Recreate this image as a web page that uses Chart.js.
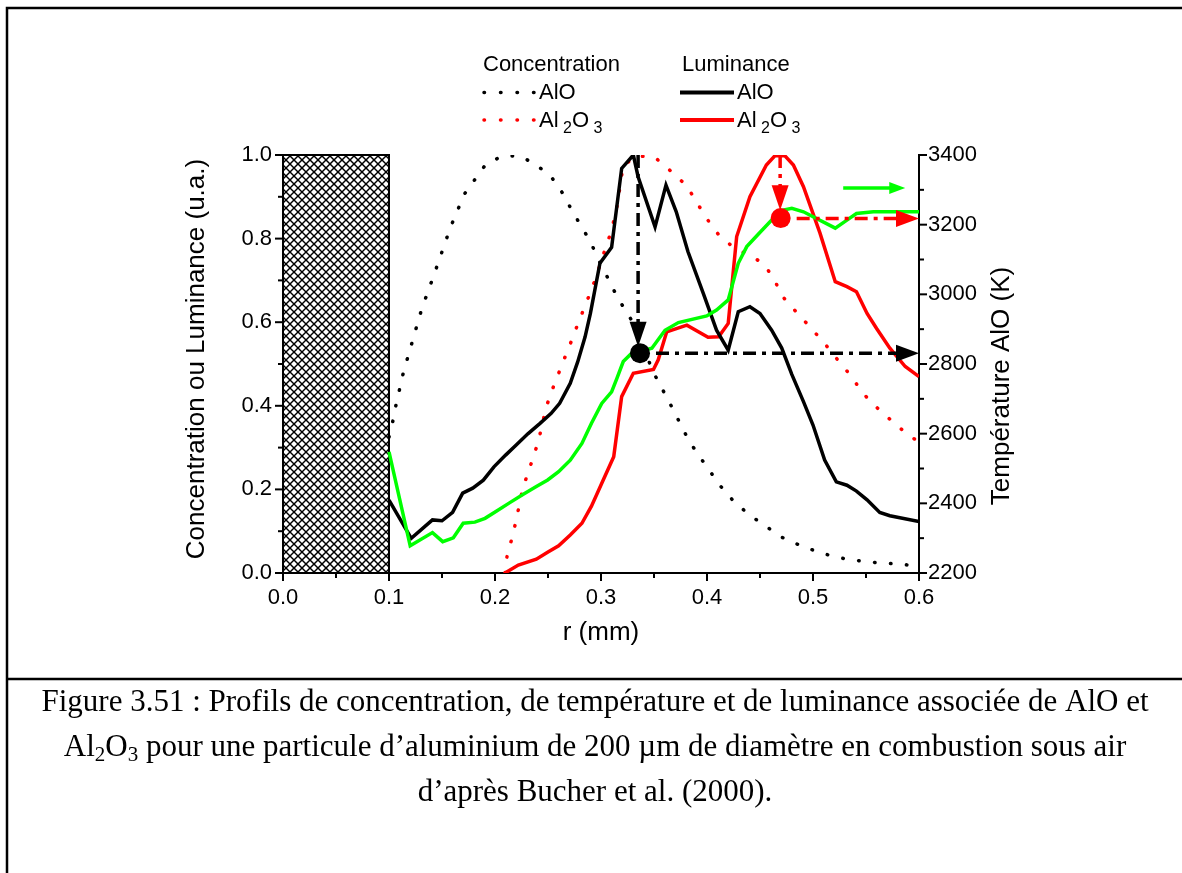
<!DOCTYPE html>
<html>
<head>
<meta charset="utf-8">
<script src="https://cdn.jsdelivr.net/npm/chart.js@4.4.0/dist/chart.umd.min.js"></script>
<style>
  html, body { margin: 0; padding: 0; background: #fff; }
  canvas { display: block; }
</style>
</head>
<body>
<canvas id="myChart" width="1182" height="873"></canvas>
<script>
// concentration AlO (dotted black)
const rConcAlO = [0.100, 0.1035, 0.1066, 0.110, 0.1135, 0.131, 0.142, 0.158, 0.171, 0.192, 0.208, 0.224, 0.238, 0.253, 0.264, 0.272, 0.281, 0.290, 0.297, 0.305, 0.312, 0.320, 0.330, 0.340, 0.349, 0.357, 0.365, 0.373, 0.381, 0.390, 0.401, 0.412, 0.425, 0.440, 0.456, 0.471, 0.487, 0.502, 0.517, 0.532, 0.548, 0.563, 0.578, 0.594];
const concAlO  = [0.325, 0.362, 0.402, 0.440, 0.479, 0.633, 0.710, 0.827, 0.906, 0.980, 0.998, 0.997, 0.978, 0.948, 0.908, 0.870, 0.831, 0.793, 0.753, 0.713, 0.677, 0.641, 0.600, 0.540, 0.482, 0.444, 0.406, 0.366, 0.326, 0.289, 0.250, 0.210, 0.172, 0.139, 0.111, 0.085, 0.067, 0.053, 0.041, 0.033, 0.028, 0.024, 0.022, 0.018];

// concentration Al2O3 (dotted red)
const rConcAl2O3 = [0.2094, 0.2115, 0.216, 0.2195, 0.226, 0.231, 0.236, 0.241, 0.248, 0.253, 0.259, 0.265, 0.271, 0.277, 0.283, 0.289, 0.295, 0.302, 0.310, 0.315, 0.321, 0.335, 0.351, 0.367, 0.381, 0.390, 0.400, 0.411, 0.425, 0.440, 0.453, 0.4635, 0.470, 0.484, 0.497, 0.511, 0.522, 0.536, 0.547, 0.561, 0.576, 0.590, 0.596];
const concAl2O3  = [0.000, 0.043, 0.083, 0.121, 0.200, 0.239, 0.276, 0.316, 0.394, 0.432, 0.471, 0.510, 0.548, 0.588, 0.627, 0.665, 0.705, 0.760, 0.820, 0.876, 0.976, 0.998, 0.994, 0.959, 0.926, 0.888, 0.847, 0.809, 0.779, 0.760, 0.741, 0.703, 0.665, 0.625, 0.589, 0.549, 0.514, 0.471, 0.430, 0.394, 0.360, 0.330, 0.320];

// luminance AlO (solid black)
const rLumAlO = [0.100, 0.121, 0.141, 0.150, 0.160, 0.1695, 0.179, 0.189, 0.199, 0.210, 0.220, 0.231, 0.2425, 0.253, 0.261, 0.271, 0.278, 0.285, 0.290, 0.299, 0.310, 0.3195, 0.3305, 0.335, 0.351, 0.3613, 0.371, 0.382, 0.3965, 0.409, 0.420, 0.4295, 0.4405, 0.450, 0.461, 0.4705, 0.480, 0.491, 0.500, 0.511, 0.522, 0.532, 0.541, 0.551, 0.563, 0.5725, 0.600];
const lumAlO  = [0.1745, 0.083, 0.127, 0.125, 0.145, 0.191, 0.203, 0.222, 0.254, 0.282, 0.306, 0.333, 0.358, 0.382, 0.406, 0.454, 0.505, 0.565, 0.621, 0.741, 0.779, 0.968, 1.000, 0.948, 0.828, 0.928, 0.864, 0.769, 0.669, 0.581, 0.533, 0.625, 0.637, 0.621, 0.581, 0.538, 0.475, 0.410, 0.354, 0.270, 0.218, 0.210, 0.196, 0.175, 0.145, 0.137, 0.123];

// luminance Al2O3 (solid red)
const rLumAl2O3 = [0.2094, 0.222, 0.239, 0.250, 0.260, 0.271, 0.282, 0.291, 0.302, 0.312, 0.3195, 0.3305, 0.3495, 0.354, 0.362, 0.381, 0.401, 0.411, 0.420, 0.428, 0.4405, 0.456, 0.464, 0.4735, 0.4815, 0.491, 0.5066, 0.521, 0.532, 0.541, 0.551, 0.560, 0.5725, 0.587, 0.600];
const lumAl2O3  = [0.000, 0.019, 0.033, 0.050, 0.065, 0.091, 0.119, 0.160, 0.222, 0.278, 0.422, 0.478, 0.487, 0.510, 0.577, 0.593, 0.564, 0.565, 0.597, 0.805, 0.900, 0.976, 0.998, 0.998, 0.976, 0.924, 0.813, 0.697, 0.685, 0.673, 0.621, 0.585, 0.538, 0.494, 0.470];

// temperature AlO (green, right axis, K)
const rTemp = [0.100, 0.120, 0.141, 0.1507, 0.1607, 0.170, 0.181, 0.1906, 0.2016, 0.214, 0.2267, 0.239, 0.2497, 0.260, 0.271, 0.282, 0.291, 0.3007, 0.310, 0.315, 0.321, 0.329, 0.348, 0.3604, 0.373, 0.3997, 0.409, 0.420, 0.4295, 0.4375, 0.447, 0.461, 0.472, 0.480, 0.491, 0.521, 0.532, 0.541, 0.557, 0.600];
const tempAlO = [2548, 2278, 2316, 2290, 2301, 2343, 2346, 2357, 2378, 2402, 2426, 2448, 2467, 2491, 2524, 2572, 2630, 2687, 2720, 2759, 2807, 2831, 2845, 2897, 2919, 2938, 2955, 2984, 3089, 3137, 3168, 3213, 3242, 3247, 3237, 3190, 3213, 3232, 3237, 3237];

// particle zone (hatched)
const particleR = [0, 0.1];
const particleC = [0, 1];

// read-off markers: peak position -> temperature (AlO, Al2O3)
const peakR = [0.335, 0.469];
const peakTipC = [0.541, 0.868];
const markR = [0.3368, 0.4695];
const markC = [0.526, 0.849];
const markT = [2831, 3218];
const markColor = ['#000000', '#ff0000'];

// green arrow toward the temperature axis
const greenArrowR = [0.5285, 0.587];
const greenArrowT = 3305;

const xTicks = [0.0, 0.1, 0.2, 0.3, 0.4, 0.5, 0.6];
const sans = "'Liberation Sans', Arial, sans-serif";
const serif = "'Liberation Serif', 'Times New Roman', serif";

const ctx = document.getElementById('myChart');

function pts(xs, ys) {
  return xs.map((x, i) => ({ x: x, y: ys[i] }));
}

function head(c, x, y, dx, dy, len, half, color) {
  const bx = x - dx * len, by = y - dy * len;
  c.beginPath();
  c.moveTo(x, y);
  c.lineTo(bx - dy * half, by + dx * half);
  c.lineTo(bx + dy * half, by - dx * half);
  c.closePath();
  c.fillStyle = color;
  c.fill();
}

function subText(c, fam, x, y, parts, size, subSize, subDrop, align) {
  // parts: [text, isSub]
  let w = 0;
  parts.forEach(p => {
    c.font = (p[1] ? subSize : size) + 'px ' + fam;
    w += c.measureText(p[0]).width;
  });
  let cx = align === 'center' ? x - w / 2 : x;
  c.textAlign = 'left';
  parts.forEach(p => {
    c.font = (p[1] ? subSize : size) + 'px ' + fam;
    c.fillText(p[0], cx, p[1] ? y + subDrop : y);
    cx += c.measureText(p[0]).width;
  });
}

const extras = {
  id: 'extras',
  beforeDatasetsDraw(chart) {
    const c = chart.ctx, xs = chart.scales.x, ys = chart.scales.y;
    const x0 = xs.getPixelForValue(particleR[0]), x1 = xs.getPixelForValue(particleR[1]);
    const y0 = ys.getPixelForValue(particleC[1]), y1 = ys.getPixelForValue(particleC[0]);
    c.save();
    c.fillStyle = '#fff';
    c.fillRect(x0, y0, x1 - x0, y1 - y0);
    c.beginPath();
    c.rect(x0, y0, x1 - x0, y1 - y0);
    c.clip();
    c.strokeStyle = '#000';
    c.lineWidth = 1.5;
    const h = y1 - y0;
    for (let s = x0 - h; s < x1 + h; s += 8) {
      c.beginPath(); c.moveTo(s, y0); c.lineTo(s + h, y1); c.stroke();
      c.beginPath(); c.moveTo(s, y1); c.lineTo(s + h, y0); c.stroke();
    }
    c.restore();
    c.save();
    c.strokeStyle = '#000';
    c.lineWidth = 2;
    c.strokeRect(x0, y0, x1 - x0, y1 - y0);
    c.restore();
  },
  afterDraw(chart) {
    const c = chart.ctx, xs = chart.scales.x, ys = chart.scales.y, ts = chart.scales.y2;
    const area = chart.chartArea;
    c.save();
    c.strokeStyle = '#000';
    c.lineWidth = 2;

    // tick marks (major outward, minor shorter)
    for (let i = 0; i <= 12; i++) {
      const px = xs.getPixelForValue(i * 0.05);
      const len = i % 2 === 0 ? 8 : 5;
      c.beginPath(); c.moveTo(px, area.bottom); c.lineTo(px, area.bottom + len); c.stroke();
    }
    for (let i = 0; i <= 10; i++) {
      const py = ys.getPixelForValue(i * 0.1);
      const len = i % 2 === 0 ? 8 : 5;
      c.beginPath(); c.moveTo(area.left, py); c.lineTo(area.left - len, py); c.stroke();
    }
    for (let i = 0; i <= 12; i++) {
      const py = ts.getPixelForValue(2200 + i * 100);
      const len = i % 2 === 0 ? 8 : 5;
      c.beginPath(); c.moveTo(area.right, py); c.lineTo(area.right + len, py); c.stroke();
    }

    // read-off arrows
    for (let k = 0; k < 2; k++) {
      const col = markColor[k];
      const vx = xs.getPixelForValue(peakR[k]);
      const tipY = ys.getPixelForValue(peakTipC[k]);
      c.strokeStyle = col;
      c.lineWidth = 3.5;
      c.setLineDash([13, 6, 4, 6]);
      c.beginPath(); c.moveTo(vx, area.top); c.lineTo(vx, tipY - 22); c.stroke();
      c.setLineDash([]);
      head(c, vx, tipY, 0, 1, 25, 8.5, col);

      const mx = xs.getPixelForValue(markR[k]);
      const my = ys.getPixelForValue(markC[k]);
      const hy = ts.getPixelForValue(markT[k]);
      c.setLineDash([13, 6, 4, 6]);
      c.beginPath(); c.moveTo(mx + 16, hy); c.lineTo(area.right - 20, hy); c.stroke();
      c.setLineDash([]);
      head(c, area.right, hy, 1, 0, 23, 8.5, col);
      c.beginPath(); c.arc(mx, my, 10, 0, Math.PI * 2); c.fillStyle = col; c.fill();
    }

    // green arrow
    const gy = ts.getPixelForValue(greenArrowT);
    const gx0 = xs.getPixelForValue(greenArrowR[0]), gx1 = xs.getPixelForValue(greenArrowR[1]);
    c.strokeStyle = '#00ff00';
    c.lineWidth = 3.5;
    c.beginPath(); c.moveTo(gx0, gy); c.lineTo(gx1 - 12, gy); c.stroke();
    head(c, gx1, gy, 1, 0, 16, 6, '#00ff00');

    // axis titles
    c.fillStyle = '#000';
    c.textBaseline = 'middle';
    c.textAlign = 'center';
    c.font = '26px ' + sans;
    c.fillText('r (mm)', (area.left + area.right) / 2, 633);
    c.save();
    c.translate(197, 359);
    c.rotate(-Math.PI / 2);
    c.fillText('Concentration ou Luminance (u.a.)', 0, 0);
    c.restore();
    c.save();
    c.translate(1002, 386);
    c.rotate(-Math.PI / 2);
    c.fillText('Température AlO (K)', 0, 0);
    c.restore();

    // legend
    c.textAlign = 'left';
    c.font = '22px ' + sans;
    c.fillText('Concentration', 483, 65);
    c.fillText('Luminance', 682, 65);
    c.lineCap = 'round';
    c.lineWidth = 3.5;
    c.setLineDash([0.5, 16]);
    c.strokeStyle = '#000';
    c.beginPath(); c.moveTo(484, 92.5); c.lineTo(535, 92.5); c.stroke();
    c.strokeStyle = '#ff0000';
    c.beginPath(); c.moveTo(484, 120); c.lineTo(535, 120); c.stroke();
    c.setLineDash([]);
    c.lineCap = 'butt';
    c.lineWidth = 4;
    c.strokeStyle = '#000';
    c.beginPath(); c.moveTo(680, 92.5); c.lineTo(734, 92.5); c.stroke();
    c.strokeStyle = '#ff0000';
    c.beginPath(); c.moveTo(680, 120); c.lineTo(734, 120); c.stroke();
    c.fillStyle = '#000';
    c.font = '22px ' + sans;
    c.fillText('AlO', 539, 93);
    c.fillText('AlO', 737, 93);
    subText(c, sans, 539, 121, [['Al', 0], [' ', 1], ['2', 1], ['O', 0], [' ', 1], ['3', 1]], 22, 16, 8, 'left');
    subText(c, sans, 737, 121, [['Al', 0], [' ', 1], ['2', 1], ['O', 0], [' ', 1], ['3', 1]], 22, 16, 8, 'left');

    // frame and caption
    c.strokeStyle = '#000';
    c.lineWidth = 2.5;
    c.beginPath();
    c.moveTo(7, 873); c.lineTo(7, 8); c.lineTo(1182, 8);
    c.moveTo(7, 679); c.lineTo(1182, 679);
    c.stroke();
    c.font = '31px ' + serif;
    c.textAlign = 'center';
    c.fillText('Figure 3.51 : Profils de concentration, de température et de luminance associée de AlO et', 595, 703);
    subText(c, serif, 595, 748, [['Al', 0], ['2', 1], ['O', 0], ['3', 1], [' pour une particule d\u2019aluminium de 200 \u00b5m de diamètre en combustion sous air', 0]], 31, 21, 7, 'center');
    c.textAlign = 'center';
    c.font = '31px ' + serif;
    c.fillText('d\u2019après Bucher et al. (2000).', 595, 793);
    c.restore();
  }
};

new Chart(ctx, {
  type: 'line',
  data: {
    datasets: [
      {
        label: 'Température AlO',
        data: pts(rTemp, tempAlO),
        yAxisID: 'y2',
        borderColor: '#00ff00',
        borderWidth: 3.5
      },
      {
        label: 'Luminance AlO',
        data: pts(rLumAlO, lumAlO),
        yAxisID: 'y',
        borderColor: '#000000',
        borderWidth: 3.5
      },
      {
        label: 'Luminance Al2O3',
        data: pts(rLumAl2O3, lumAl2O3),
        yAxisID: 'y',
        borderColor: '#ff0000',
        borderWidth: 3.5
      },
      {
        label: 'Concentration AlO',
        data: pts(rConcAlO, concAlO),
        yAxisID: 'y',
        borderColor: '#000000',
        borderWidth: 3.5,
        borderDash: [0.5, 15.5],
        borderCapStyle: 'round'
      },
      {
        label: 'Concentration Al2O3',
        data: pts(rConcAl2O3, concAl2O3),
        yAxisID: 'y',
        borderColor: '#ff0000',
        borderWidth: 3.5,
        borderDash: [0.5, 15.5],
        borderCapStyle: 'round'
      }
    ]
  },
  options: {
    responsive: false,
    animation: false,
    devicePixelRatio: 1,
    layout: { padding: { top: 155, left: 0, right: 0, bottom: 0 } },
    elements: { point: { radius: 0 }, line: { tension: 0 } },
    plugins: { legend: { display: false }, tooltip: { enabled: false } },
    scales: {
      x: {
        type: 'linear',
        min: 0, max: 0.6,
        afterFit: s => { s.height = 300; },
        afterBuildTicks: s => { s.ticks = xTicks.map(v => ({ value: v })); },
        grid: { display: false, drawTicks: false },
        border: { display: true, color: '#000', width: 2 },
        ticks: {
          color: '#000', padding: 12,
          font: { family: sans, size: 22 },
          callback: v => v.toFixed(1)
        }
      },
      y: {
        position: 'left',
        min: 0, max: 1,
        afterFit: s => { s.width = 283; },
        grid: { display: false, drawTicks: false },
        border: { display: true, color: '#000', width: 2 },
        ticks: {
          color: '#000', padding: 11, stepSize: 0.2,
          font: { family: sans, size: 22 },
          callback: v => v.toFixed(1)
        }
      },
      y2: {
        position: 'right',
        min: 2200, max: 3400,
        afterFit: s => { s.width = 263; },
        grid: { display: false, drawTicks: false },
        border: { display: true, color: '#000', width: 2 },
        ticks: {
          color: '#000', padding: 9, stepSize: 200,
          font: { family: sans, size: 22 },
          callback: v => String(v)
        }
      }
    }
  },
  plugins: [extras]
});
</script>
</body>
</html>
